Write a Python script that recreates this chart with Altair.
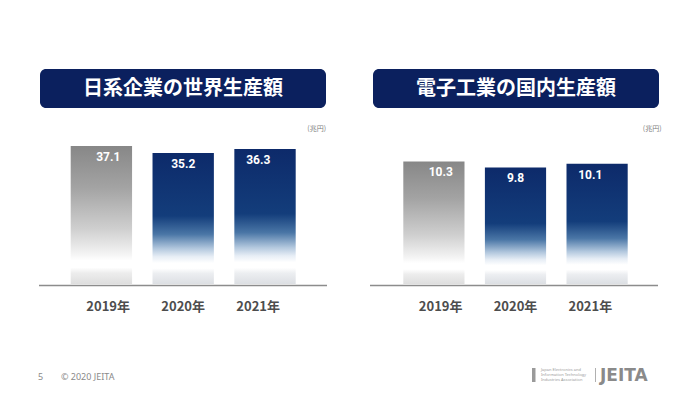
import altair as alt
import pandas as pd

# ---- data ----
years = ["2019年", "2020年", "2021年"]
global_prod = [37.1, 35.2, 36.3]      # 日系企業の世界生産額（兆円）
domestic_prod = [10.3, 9.8, 10.1]     # 電子工業の国内生産額（兆円）
title_left = "日系企業の世界生産額"
title_right = "電子工業の国内生産額"
unit_label = "(兆円)"
footer_page = "5"
footer_copy = "© 2020 JEITA"
logo_lines = ["Japan Electronics and", "Information Technology", "Industries Association"]
logo_name = "JEITA"

left_df = pd.DataFrame({"year": years, "value": global_prod})
right_df = pd.DataFrame({"year": years, "value": domestic_prod})
one = pd.DataFrame({"k": [0]})

NAVY = "#0b205e"
JP = "Noto Sans CJK JP"
NUMFONT = "Roboto"

gray_grad = alt.LinearGradient(
    gradient="linear", x1=0, x2=0, y1=0, y2=1,
    stops=[
        alt.GradientStop(color="#878787", offset=0),
        alt.GradientStop(color="#a3a3a3", offset=0.3),
        alt.GradientStop(color="#cfcfcf", offset=0.6),
        alt.GradientStop(color="#f3f3f3", offset=0.78),
        alt.GradientStop(color="#ffffff", offset=0.83),
        alt.GradientStop(color="#ffffff", offset=0.88),
        alt.GradientStop(color="#ededed", offset=0.92),
        alt.GradientStop(color="#dedede", offset=1),
    ],
)
blue_grad = alt.LinearGradient(
    gradient="linear", x1=0, x2=0, y1=0, y2=1,
    stops=[
        alt.GradientStop(color="#0d2a6a", offset=0),
        alt.GradientStop(color="#133d7b", offset=0.48),
        alt.GradientStop(color="#4a76a6", offset=0.62),
        alt.GradientStop(color="#b3c8de", offset=0.73),
        alt.GradientStop(color="#e6edf5", offset=0.79),
        alt.GradientStop(color="#ffffff", offset=0.84),
        alt.GradientStop(color="#ffffff", offset=0.88),
        alt.GradientStop(color="#eceef1", offset=0.92),
        alt.GradientStop(color="#dcdfe3", offset=1),
    ],
)


def panel(df, xrange, ydomain, yrange):
    xs = alt.Scale(domain=years, range=xrange, paddingInner=0.25, paddingOuter=0)
    ys = alt.Scale(domain=ydomain, range=yrange, nice=False, zero=True)
    X = alt.X("year:N", scale=xs, axis=None, sort=years)
    Y = alt.Y("value:Q", scale=ys, axis=None)
    base = alt.Chart(df)
    gray = base.transform_filter(alt.datum.year == years[0]).mark_bar(
        fill=gray_grad, stroke=None
    ).encode(x=X, y=Y)
    blue = base.transform_filter(alt.datum.year != years[0]).mark_bar(
        fill=blue_grad, stroke=None
    ).encode(x=X, y=Y)
    vals = base.mark_text(
        font=NUMFONT, fontWeight="bold", fontSize=12, color="white",
        baseline="middle", dy=11
    ).encode(x=X, y=Y, text=alt.Text("value:Q", format=".1f"))
    yrs = base.mark_text(
        font=JP, fontWeight="bold", fontSize=13, color="#4d4d4d", baseline="middle"
    ).encode(x=X, y=alt.value(298.5), text="year:N")
    return [gray, blue, vals, yrs]


layers = []
layers += panel(left_df, [62.7, 287.7], [0, 40], [276, 127.2])
layers += panel(right_df, [395.3, 619.7], [0, 12], [276, 133.2])

oc = alt.Chart(one)

# axis baselines
for x1, x2 in [(31, 319), (362, 650)]:
    layers.append(oc.mark_rule(color="#8c8c8c", strokeWidth=1.5).encode(
        x=alt.value(x1), x2=alt.value(x2), y=alt.value(277.5)))

# title boxes
for x1, x2, t in [(32, 318, title_left), (365, 651, title_right)]:
    layers.append(oc.mark_rect(fill=NAVY, cornerRadius=6).encode(
        x=alt.value(x1), x2=alt.value(x2), y=alt.value(61), y2=alt.value(100)))
    layers.append(oc.mark_text(text=t, font=JP, fontWeight="bold", fontSize=20,
                               color="white", align="center", baseline="middle").encode(
        x=alt.value((x1 + x2) / 2), y=alt.value(81)))

# unit labels
for x, y in [(318, 121), (653.5, 121)]:
    layers.append(oc.mark_text(text=unit_label, font=JP, fontSize=7, color="#808080",
                               align="right", baseline="middle").encode(
        x=alt.value(x), y=alt.value(y)))

# footer
layers.append(oc.mark_text(text=footer_page, font="Noto Sans", fontSize=9, color="#8a8a8a",
                           align="left", baseline="middle").encode(
    x=alt.value(30), y=alt.value(369)))
layers.append(oc.mark_text(text=footer_copy, font="Noto Sans", fontSize=9, color="#8a8a8a",
                           align="left", baseline="middle").encode(
    x=alt.value(53), y=alt.value(369)))

# logo
layers.append(oc.mark_rect(fill="#9a9a9a").encode(
    x=alt.value(524), x2=alt.value(527.5), y=alt.value(360), y2=alt.value(374)))
for i, line in enumerate(logo_lines):
    layers.append(oc.mark_text(text=line, font="Noto Sans", fontSize=4, color="#9a9a9a",
                               align="left", baseline="middle").encode(
        x=alt.value(533), y=alt.value(362 + i * 4.8)))
layers.append(oc.mark_rule(color="#b0b0b0", strokeWidth=1).encode(
    x=alt.value(587.5), y=alt.value(360), y2=alt.value(374)))
layers.append(oc.mark_text(text=logo_name, font="DejaVu Sans", fontWeight="bold", fontSize=17,
                           color="#8a8a8a", align="left", baseline="middle").encode(
    x=alt.value(592), y=alt.value(368)))

chart = alt.layer(*layers).resolve_scale(
    x="independent", y="independent"
).properties(
    width=684, height=378, padding=0,
    autosize=alt.AutoSizeParams(type="none"),
    background="white",
).configure_view(stroke=None)

chart.save("out.html", embed_options={"renderer": "svg", "actions": False})
